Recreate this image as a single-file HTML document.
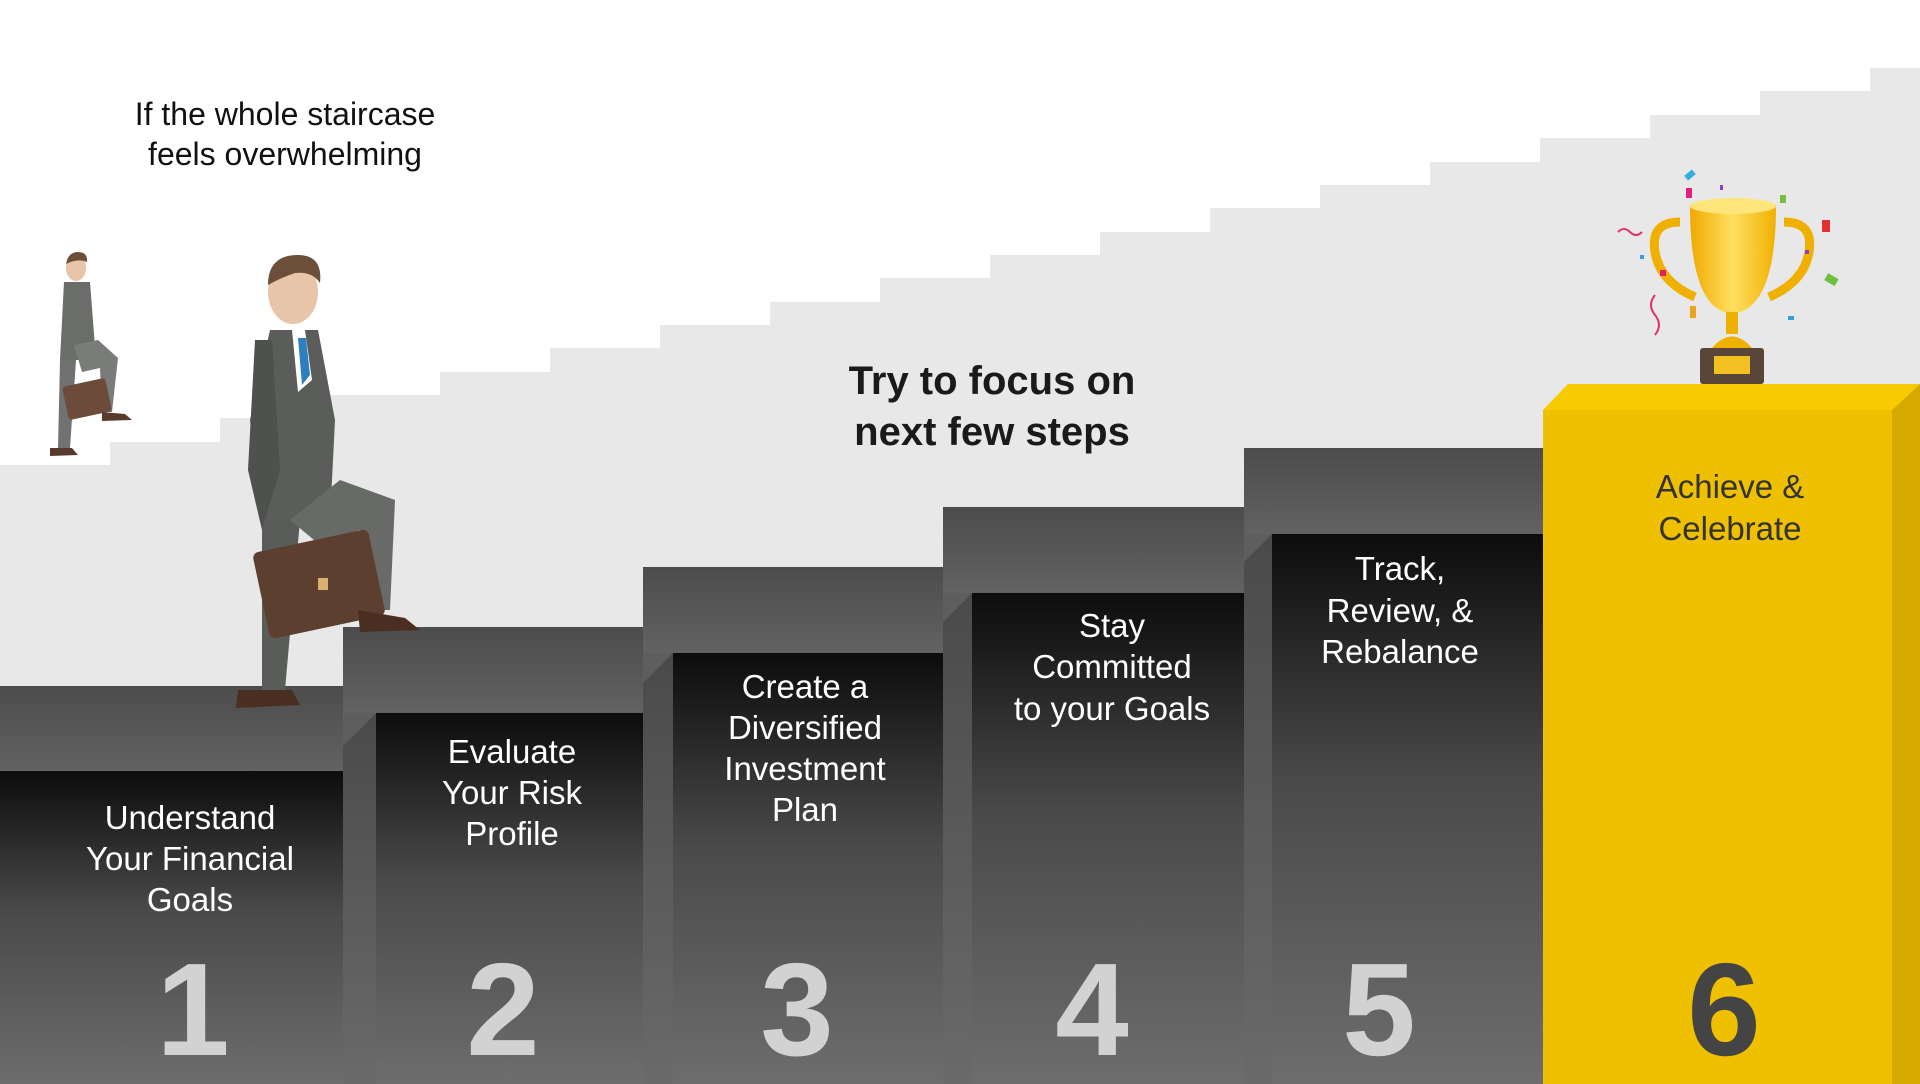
<!DOCTYPE html>
<html><head><meta charset="utf-8"><style>
html,body{margin:0;padding:0;background:#fff;}
svg{display:block;}
text{font-family:"Liberation Sans",sans-serif;}
</style></head><body>
<svg width="1920" height="1084" viewBox="0 0 1920 1084" xmlns="http://www.w3.org/2000/svg">
<defs>
<linearGradient id="face" x1="0" y1="0" x2="0" y2="1">
<stop offset="0" stop-color="#0c0c0c"/><stop offset="0.45" stop-color="#4a4a4a"/><stop offset="1" stop-color="#6d6d6d"/></linearGradient>
<linearGradient id="tread" x1="0" y1="0" x2="0" y2="1">
<stop offset="0" stop-color="#4c4c4c"/><stop offset="1" stop-color="#626262"/></linearGradient>
<linearGradient id="side" x1="0" y1="0" x2="0" y2="1">
<stop offset="0" stop-color="#4a4a4a"/><stop offset="1" stop-color="#6a6a6a"/></linearGradient>
<linearGradient id="cup" x1="0" y1="0" x2="1" y2="0">
<stop offset="0" stop-color="#f0a800"/><stop offset="0.5" stop-color="#ffe060"/><stop offset="1" stop-color="#f0b000"/></linearGradient>
</defs>
<rect width="1920" height="1084" fill="#fff"/>
<polygon fill="#e8e8e8" points="0,1084 0,465 110,465 110,442 220,442 220,418 330,418 330,395 440,395 440,372 550,372 550,348 660,348 660,325 770,325 770,302 880,302 880,278 990,278 990,255 1100,255 1100,232 1210,232 1210,208 1320,208 1320,185 1430,185 1430,162 1540,162 1540,138 1650,138 1650,115 1760,115 1760,91 1870,91 1870,68 1920,68 1920,1084"/>

<rect x="0" y="686" width="343" height="85" fill="url(#tread)"/>
<rect x="0" y="771" width="343" height="313" fill="url(#face)"/>

<rect x="343" y="627" width="300" height="86" fill="url(#tread)"/>
<rect x="343" y="713" width="33" height="371" fill="url(#side)"/>
<polygon points="343,713 376,713 343,746" fill="#5e5e5e"/>
<rect x="376" y="713" width="267" height="371" fill="url(#face)"/>

<rect x="643" y="567" width="300" height="86" fill="url(#tread)"/>
<rect x="643" y="653" width="30" height="431" fill="url(#side)"/>
<polygon points="643,653 673,653 643,683" fill="#5e5e5e"/>
<rect x="673" y="653" width="270" height="431" fill="url(#face)"/>

<rect x="943" y="507" width="301" height="86" fill="url(#tread)"/>
<rect x="943" y="593" width="29" height="491" fill="url(#side)"/>
<polygon points="943,593 972,593 943,622" fill="#5e5e5e"/>
<rect x="972" y="593" width="272" height="491" fill="url(#face)"/>

<rect x="1244" y="448" width="299" height="86" fill="url(#tread)"/>
<rect x="1244" y="534" width="28" height="550" fill="url(#side)"/>
<polygon points="1244,534 1272,534 1244,562" fill="#5e5e5e"/>
<rect x="1272" y="534" width="271" height="550" fill="url(#face)"/>

<polygon points="1543,410 1568,384 1920,384 1892,410" fill="#f7cb00"/>
<rect x="1543" y="410" width="349" height="674" fill="#efc000"/>
<polygon points="1892,410 1920,384 1920,1084 1892,1084" fill="#d6a900"/>

<g fill="#111" font-size="32" text-anchor="middle">
<text x="285" y="125">If the whole staircase</text>
<text x="285" y="165">feels overwhelming</text>
</g>
<g fill="#1a1a1a" font-size="40" font-weight="bold" text-anchor="middle">
<text x="992" y="394">Try to focus on</text>
<text x="992" y="445">next few steps</text>
</g>
<g fill="#fff" font-size="33" text-anchor="middle">
<text x="190" y="829">Understand</text><text x="190" y="870">Your Financial</text><text x="190" y="911">Goals</text>
<text x="512" y="763">Evaluate</text><text x="512" y="804">Your Risk</text><text x="512" y="845">Profile</text>
<text x="805" y="698">Create a</text><text x="805" y="739">Diversified</text><text x="805" y="780">Investment</text><text x="805" y="821">Plan</text>
<text x="1112" y="637">Stay</text><text x="1112" y="678">Committed</text><text x="1112" y="720">to your Goals</text>
<text x="1400" y="580">Track,</text><text x="1400" y="622">Review, &amp;</text><text x="1400" y="663">Rebalance</text>
</g>
<g fill="#333" font-size="33" text-anchor="middle">
<text x="1730" y="498">Achieve &amp;</text><text x="1730" y="540">Celebrate</text>
</g>
<g fill="#d2d2d2" font-size="132" font-weight="bold" text-anchor="middle">
<text x="193" y="1055">1</text><text x="503" y="1055">2</text><text x="797" y="1055">3</text><text x="1092" y="1055">4</text><text x="1379" y="1055">5</text>
</g>
<text x="1724" y="1055" fill="#444" font-size="132" font-weight="bold" text-anchor="middle">6</text>

<g>
<ellipse cx="293" cy="292" rx="25" ry="32" fill="#e8c4a8"/>
<path d="M268,285 q0,-30 30,-30 q25,0 22,28 q-8,-12 -25,-10 q-15,5 -27,12z" fill="#6b4f3a"/>
<path d="M270,330 L318,330 L335,420 L330,520 L262,520 L250,420 Z" fill="#5b5d5a"/>
<path d="M292,330 L305,330 L312,380 L298,392 Z" fill="#fff"/>
<path d="M298,338 L306,338 L310,375 L302,385Z" fill="#2e7fc0"/>
<path d="M262,520 L300,520 L285,690 L262,690 Z" fill="#5a5c59"/>
<path d="M290,520 L340,480 L395,500 L390,610 L365,610 L360,530 L320,545Z" fill="#686a67"/>
<path d="M255,340 L272,340 L280,470 L262,530 L248,470Z" fill="#4f514e"/>
<rect x="260" y="540" width="118" height="88" rx="6" fill="#5d3f30" transform="rotate(-12 319 584)"/>
<rect x="318" y="578" width="10" height="12" fill="#d9b070"/>
<path d="M238,690 L292,690 L300,705 L236,708Z" fill="#4a2e22"/>
<path d="M358,610 L405,618 L420,630 L360,632Z" fill="#4a2e22"/>
</g>
<g>
<ellipse cx="76" cy="268" rx="10" ry="13" fill="#e8c4a8"/>
<path d="M66,264 q2,-12 12,-12 q10,0 9,10 q-9,-4 -21,2z" fill="#6b4f3a"/>
<path d="M64,282 L90,282 L96,360 L60,360Z" fill="#6b6d6a"/>
<path d="M60,360 L76,360 L70,448 L58,448Z" fill="#707270"/>
<path d="M74,345 L98,340 L118,358 L112,412 L102,412 L100,368 L82,372Z" fill="#7a7c79"/>
<rect x="65" y="382" width="44" height="34" rx="3" fill="#6d4b3b" transform="rotate(-12 87 399)"/>
<path d="M50,448 L72,448 L78,455 L50,456Z" fill="#5a3a2c"/>
<path d="M102,412 L125,414 L132,420 L102,421Z" fill="#5a3a2c"/>
</g>
<g>
<path d="M1680,222 q-30,0 -25,30 q5,30 40,45" stroke="#f0b000" stroke-width="9" fill="none"/>
<path d="M1784,222 q30,0 25,30 q-5,30 -40,45" stroke="#f0b000" stroke-width="9" fill="none"/>
<path d="M1690,205 L1776,205 Q1776,300 1740,312 L1724,312 Q1690,300 1690,205Z" fill="url(#cup)"/>
<ellipse cx="1733" cy="206" rx="43" ry="8" fill="#ffe57a"/>
<rect x="1726" y="312" width="12" height="22" fill="#f0b000"/>
<path d="M1712,348 Q1732,325 1752,348Z" fill="#f0b000"/>
<rect x="1700" y="348" width="64" height="36" rx="3" fill="#5a4638"/>
<rect x="1714" y="356" width="36" height="18" fill="#f2c020"/>
<g>
<rect x="1686" y="188" width="6" height="10" fill="#e0207a"/>
<rect x="1780" y="195" width="6" height="8" fill="#7ac040"/>
<rect x="1822" y="220" width="8" height="12" fill="#e03030"/>
<rect x="1685" y="172" width="10" height="6" fill="#30b0e0" transform="rotate(-40 1690 175)"/>
<rect x="1825" y="275" width="12" height="8" fill="#70c040" transform="rotate(30 1830 280)"/>
<rect x="1660" y="270" width="6" height="6" fill="#e02060"/>
<rect x="1690" y="306" width="6" height="12" fill="#f0a020"/>
<rect x="1788" y="316" width="6" height="4" fill="#30a0e0"/>
<path d="M1655,335 q8,-10 0,-20 q-8,-10 0,-20" stroke="#e03070" stroke-width="2" fill="none"/>
<path d="M1618,232 q6,-6 12,0 q6,6 12,0" stroke="#e03070" stroke-width="2" fill="none"/>
<rect x="1720" y="185" width="3" height="5" fill="#8a40c0"/>
<rect x="1805" y="250" width="4" height="4" fill="#8a40c0"/>
<rect x="1640" y="255" width="4" height="4" fill="#30a0e0"/>
</g>
</g>
</svg>
</body></html>
